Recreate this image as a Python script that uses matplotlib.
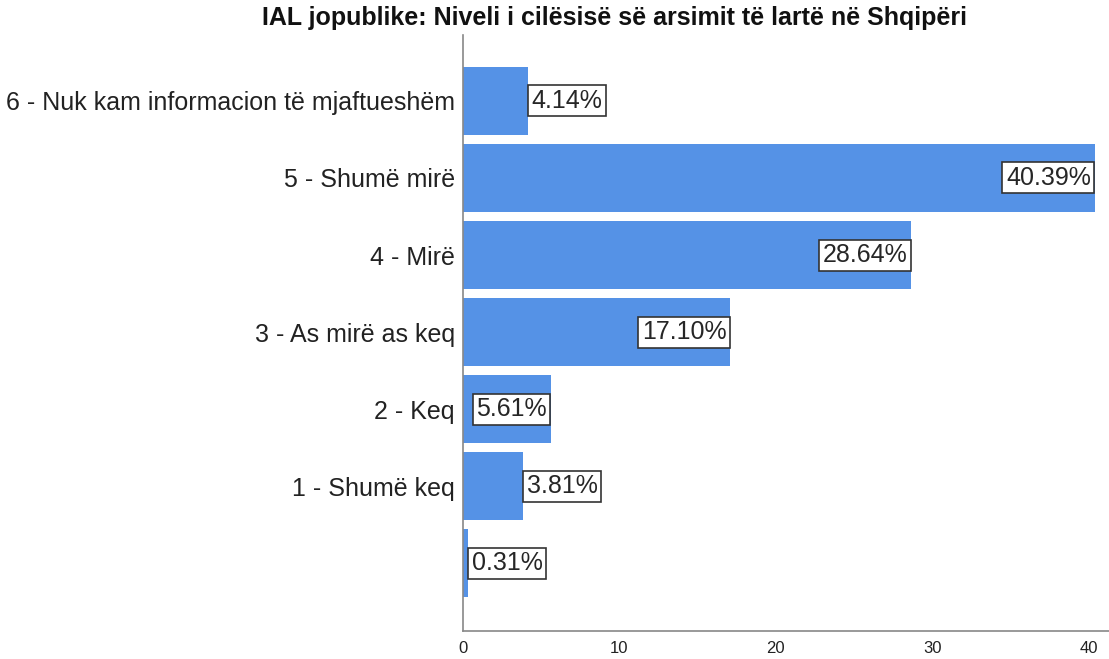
import matplotlib.pyplot as plt

plt.rcParams['font.family'] = ['Liberation Sans', 'DejaVu Sans']

categories = ["6 - Nuk kam informacion të mjaftueshëm", "5 - Shumë mirë", "4 - Mirë",
              "3 - As mirë as keq", "2 - Keq", "1 - Shumë keq", ""]
values = [4.14, 40.39, 28.64, 17.10, 5.61, 3.81, 0.31]
xticks = [0, 10, 20, 30, 40]

fig = plt.figure(figsize=(11.09, 6.59), dpi=100)
ax = fig.add_axes([0.4175, 0.0425, 0.5825, 0.9045])

pos = list(range(len(categories)))
ax.barh(pos, values, height=0.88, color='#5592e6')

# labels sit inside the bar end when they fit, otherwise just outside
for p, v in zip(pos, values):
    inside = v > 5
    ax.text(v + (-0.25 if inside else 0.25), p, f"{v:.2f}%",
            ha='right' if inside else 'left', va='center', fontsize=18, color='#262626',
            bbox=dict(boxstyle='square,pad=0.14', facecolor='white', edgecolor='#333333', linewidth=1.2))

ax.set_yticks(pos)
ax.set_yticklabels(categories, fontsize=18, color='#222222')
ax.set_xticks(xticks)
ax.set_xticklabels([str(t) for t in xticks], fontsize=12, color='#222222')
ax.tick_params(length=0, pad=7)
ax.tick_params(axis='y', pad=6)
ax.set_xlim(0, 41.3)
ax.set_ylim(6.88, -0.857)

for s in ['top', 'right']:
    ax.spines[s].set_visible(False)
for s in ['left', 'bottom']:
    ax.spines[s].set_color('#888888')
    ax.spines[s].set_linewidth(1.2)

fig.text(0.554, 0.972, "IAL jopublike: Niveli i cilësisë së arsimit të lartë në Shqipëri",
         ha='center', va='center', fontsize=18, fontweight='bold', color='#111111')

fig.savefig('out.png', dpi=100)
